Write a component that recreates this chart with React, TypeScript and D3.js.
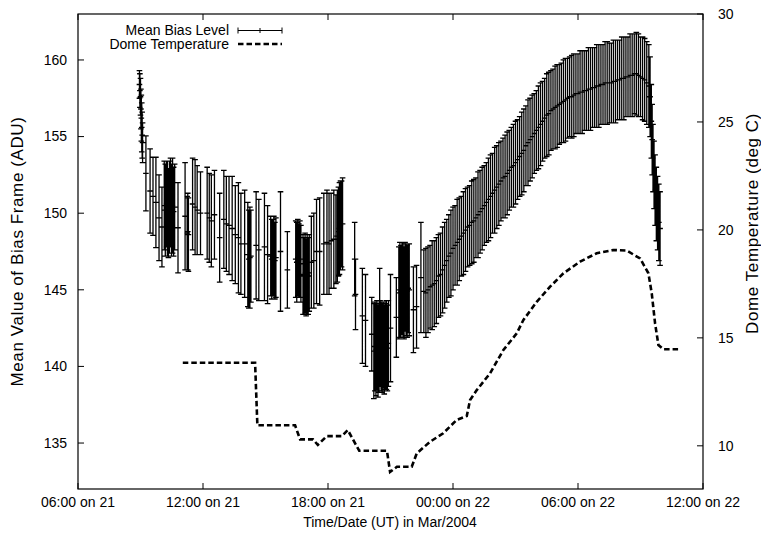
import React from 'react';
import * as d3 from 'd3';

// hours are counted from 00:00 UT on 21 Mar 2004
const xTickHours = [6, 12, 18, 24, 30, 36];
const xTickLabels = ['06:00 on 21', '12:00 on 21', '18:00 on 21', '00:00 on 22', '06:00 on 22', '12:00 on 22'];
const biasTicks = [135, 140, 145, 150, 155, 160];
const tempTicks = [10, 15, 20, 25, 30];

// [hour, mean bias (ADU), half error bar]
type Bar = [number, number, number];

const biasMorning: Bar[] = [
  [8.95, 158.4, 0.9], [8.97, 158.0, 1.1], [9.0, 157.6, 1.2], [9.02, 156.8, 1.3],
  [9.04, 156.2, 1.5], [9.06, 155.6, 1.6], [9.08, 155.1, 1.5], [9.1, 154.6, 1.3],
  [9.26, 152.6, 2.45], [9.46, 151.45, 2.75], [9.6, 151.1, 2.55], [9.74, 150.7, 2.95],
  [9.89, 149.7, 2.8], [10.03, 149.1, 2.6],
  [10.14, 150.5, 2.9], [10.19, 150.2, 3.0], [10.24, 150.6, 2.8], [10.29, 150.3, 3.1],
  [10.34, 150.0, 2.9], [10.39, 150.4, 3.0], [10.44, 150.7, 2.9], [10.49, 150.2, 3.0],
  [10.54, 150.5, 3.1], [10.59, 150.1, 2.9], [10.64, 150.4, 2.8],
  [10.8, 149.05, 2.95], [11.14, 149.8, 3.5],
  [11.24, 148.7, 2.4], [11.27, 148.8, 2.5], [11.3, 148.6, 2.4],
  [11.5, 150.6, 3.0], [11.62, 150.4, 3.1], [11.72, 150.2, 2.9], [11.88, 150.0, 2.7],
];

const biasAfternoon: Bar[] = [
  [12.2, 150.0, 3.0], [12.3, 149.7, 2.9], [12.4, 149.5, 3.0], [12.55, 149.9, 2.9],
  [12.8, 148.4, 2.9], [13.0, 149.6, 3.2], [13.12, 149.3, 3.1], [13.25, 149.2, 3.2],
  [13.4, 149.0, 3.4], [13.55, 148.6, 3.2], [13.7, 148.4, 3.6], [13.82, 148.0, 3.3],
  [14.0, 148.0, 3.5], [14.15, 147.3, 3.4], [14.2, 147.0, 3.2], [14.25, 147.1, 3.3],
  [14.3, 147.2, 3.0], [14.55, 147.9, 3.5], [14.68, 147.6, 3.3], [14.95, 147.8, 3.5],
  [15.1, 147.3, 3.2], [15.25, 147.2, 2.6], [15.3, 147.0, 2.6], [15.35, 147.1, 2.5],
  [15.4, 147.2, 2.6], [15.45, 146.9, 2.5], [15.5, 147.1, 2.6], [15.72, 147.5, 3.9],
  [16.05, 146.3, 2.5],
  [16.45, 147.0, 2.5], [16.5, 146.8, 2.6], [16.55, 147.1, 2.5], [16.6, 146.9, 2.4],
  [16.65, 147.0, 2.5], [16.7, 146.7, 2.5],
  [16.8, 146.0, 2.6], [16.85, 145.9, 2.5], [16.9, 146.1, 2.6], [16.95, 145.8, 2.5],
  [17.0, 146.0, 2.6], [17.05, 145.9, 2.5], [17.1, 146.1, 2.5],
  [17.2, 146.8, 3.0], [17.32, 146.9, 3.1], [17.45, 147.5, 3.4], [17.6, 147.5, 3.5],
  [17.8, 148.0, 3.3], [17.95, 148.1, 3.4], [18.05, 148.0, 3.3],
  [18.15, 148.2, 3.1], [18.28, 148.3, 3.2],
  [18.38, 148.3, 2.9], [18.45, 148.5, 3.0], [18.5, 148.8, 2.9], [18.55, 149.0, 3.0],
  [18.6, 149.2, 2.9], [18.65, 149.3, 2.8], [18.7, 149.3, 3.0],
];

const biasEvening: Bar[] = [
  [19.28, 147.0, 2.4], [19.32, 144.7, 2.3], [19.65, 143.3, 3.1], [19.8, 143.0, 3.0],
  [20.1, 142.1, 2.4],
  [20.2, 141.0, 3.1], [20.25, 141.3, 2.9], [20.3, 141.1, 3.0], [20.35, 141.4, 2.9],
  [20.4, 141.0, 3.0], [20.45, 141.2, 2.9], [20.48, 143.0, 3.4], [20.5, 141.5, 2.8],
  [20.55, 141.3, 2.9], [20.6, 141.2, 2.9], [20.65, 141.4, 2.8], [20.7, 141.1, 2.9],
  [20.75, 141.3, 2.8], [20.8, 141.4, 2.9], [20.85, 141.2, 2.8], [20.9, 141.5, 2.8],
  [21.0, 142.5, 3.5], [21.28, 143.2, 2.6],
  [21.4, 144.8, 3.0], [21.45, 145.0, 3.1], [21.5, 144.9, 3.0], [21.55, 145.1, 3.0],
  [21.6, 145.0, 3.1], [21.65, 144.8, 3.0], [21.7, 145.2, 2.9], [21.75, 145.0, 3.0],
  [21.8, 144.9, 3.0], [21.85, 145.1, 2.9], [21.9, 145.0, 3.0],
  [22.1, 143.7, 2.8], [22.25, 143.9, 2.7], [22.46, 145.8, 3.6],
];

const biasRise: Bar[] = [
  [22.6, 144.9, 2.7], [22.7, 144.8, 2.9], [22.8, 145.0, 2.8], [22.9, 145.2, 2.7],
  [23.0, 145.3, 2.9], [23.1, 145.4, 2.8], [23.2, 145.6, 2.8], [23.3, 145.9, 2.7],
  [23.4, 146.0, 2.7], [23.5, 146.3, 2.8], [23.6, 146.6, 2.8], [23.7, 146.9, 2.7],
  [23.8, 147.2, 2.7], [23.9, 147.4, 2.8], [24.0, 147.7, 2.7], [24.1, 147.9, 2.6],
  [24.2, 148.1, 2.8], [24.3, 148.3, 2.7], [24.4, 148.5, 2.6], [24.5, 148.7, 2.7],
  [24.6, 148.9, 2.7], [24.7, 149.1, 2.6], [24.8, 149.2, 2.6], [24.9, 149.4, 2.7],
  [25.0, 149.5, 2.7], [25.1, 149.7, 2.6], [25.2, 149.9, 2.8], [25.3, 150.1, 2.7],
  [25.4, 150.3, 2.7], [25.5, 150.5, 2.6], [25.6, 150.7, 2.6], [25.7, 150.9, 2.7],
  [25.8, 151.1, 2.7], [25.9, 151.3, 2.6], [26.0, 151.5, 2.8], [26.1, 151.7, 2.7],
  [26.2, 151.9, 2.7], [26.3, 152.1, 2.6], [26.4, 152.3, 2.6], [26.5, 152.4, 2.7],
  [26.6, 152.6, 2.7], [26.7, 152.8, 2.6], [26.8, 153.0, 2.6], [26.9, 153.1, 2.7],
  [27.0, 153.3, 2.7], [27.1, 153.5, 2.6], [27.2, 153.7, 2.6], [27.3, 153.9, 2.7],
  [27.4, 154.1, 2.7], [27.5, 154.4, 2.6], [27.6, 154.6, 2.8], [27.7, 154.8, 2.7],
  [27.8, 155.0, 2.7], [27.9, 155.2, 2.6], [28.0, 155.4, 2.6], [28.1, 155.6, 2.7],
  [28.2, 155.8, 2.7], [28.3, 156.0, 2.6], [28.4, 156.2, 2.6], [28.5, 156.4, 2.7],
  [28.6, 156.5, 2.7], [28.7, 156.7, 2.6], [28.8, 156.8, 2.6], [28.9, 156.9, 2.7],
  [29.0, 157.0, 2.7], [29.1, 157.1, 2.6], [29.2, 157.2, 2.6], [29.3, 157.3, 2.7],
  [29.4, 157.4, 2.7], [29.5, 157.5, 2.6], [29.6, 157.6, 2.6], [29.7, 157.6, 2.7],
  [29.8, 157.7, 2.7], [29.9, 157.8, 2.6], [30.0, 157.8, 2.6], [30.1, 157.9, 2.7],
  [30.2, 157.9, 2.7], [30.3, 158.0, 2.6], [30.4, 158.0, 2.6], [30.5, 158.1, 2.7],
  [30.6, 158.1, 2.7], [30.7, 158.2, 2.6], [30.8, 158.2, 2.6], [30.9, 158.3, 2.7],
  [31.0, 158.3, 2.7], [31.1, 158.4, 2.6], [31.2, 158.4, 2.6], [31.3, 158.5, 2.7],
  [31.4, 158.5, 2.7], [31.5, 158.5, 2.6], [31.6, 158.5, 2.6], [31.7, 158.6, 2.7],
  [31.8, 158.6, 2.7], [31.9, 158.7, 2.6], [32.0, 158.7, 2.6], [32.1, 158.8, 2.7],
  [32.2, 158.8, 2.7], [32.3, 158.9, 2.6], [32.4, 158.9, 2.6], [32.5, 159.0, 2.7],
  [32.6, 159.0, 2.7], [32.7, 159.1, 2.6], [32.8, 159.1, 2.7], [32.9, 159.0, 2.7],
  [33.0, 158.9, 2.6], [33.1, 158.8, 2.7], [33.2, 158.7, 2.7], [33.3, 158.5, 2.7],
];

const biasTail: Bar[] = [
  [33.4, 158.3, 2.7], [33.46, 157.6, 2.6], [33.52, 156.0, 2.4], [33.56, 154.8, 2.3],
  [33.6, 153.6, 2.2], [33.65, 152.5, 2.2], [33.7, 151.5, 2.3], [33.76, 150.6, 2.4],
  [33.82, 150.0, 2.4], [33.88, 149.4, 2.5], [33.94, 149.0, 2.4],
];

// [hour, dome temperature (deg C)]
const domeTemp: [number, number][] = [
  [11.03, 13.85], [14.5, 13.85], [14.61, 10.95], [16.42, 10.95], [16.66, 10.3],
  [17.28, 10.3], [17.51, 10.04], [17.94, 10.45], [18.66, 10.45], [18.95, 10.73],
  [19.5, 9.77], [20.83, 9.77], [20.98, 8.79], [21.31, 9.03], [22.02, 9.03],
  [22.26, 9.65], [22.9, 10.19], [23.53, 10.58], [24.18, 11.2], [24.66, 11.38],
  [24.82, 12.12], [25.14, 12.58], [25.78, 13.36], [26.42, 14.44], [27.06, 15.21],
  [27.38, 15.83], [28.02, 16.67], [28.66, 17.37], [29.3, 17.99], [30.1, 18.53],
  [30.9, 18.92], [31.7, 19.07], [32.34, 19.04], [32.98, 18.68], [33.38, 17.99],
  [33.54, 17.06], [33.7, 15.67], [33.86, 14.67], [34.1, 14.47], [34.82, 14.47],
];

const W = 761;
const H = 533;
const plot = { left: 78, right: 703, top: 14, bottom: 489 };
const font = '"Liberation Sans", Arial, Helvetica, sans-serif';

export default function App() {
  const x = d3.scaleLinear().domain([6, 36]).range([plot.left, plot.right]);
  const yBias = d3.scaleLinear().domain([132, 163]).range([plot.bottom, plot.top]);
  const yTemp = d3.scaleLinear().domain([8, 30]).range([plot.bottom, plot.top]);

  const bars = [...biasMorning, ...biasAfternoon, ...biasEvening, ...biasRise, ...biasTail];
  const cap = 2.8;
  const barPath = bars.map(([h, m, e]) => {
    const cx = x(h);
    const y0 = yBias(m - e);
    const y1 = yBias(m + e);
    const ym = yBias(m);
    return `M${cx},${y0}V${y1}M${cx - cap},${y0}H${cx + cap}M${cx - cap},${y1}H${cx + cap}M${cx - cap},${ym}H${cx + cap}`;
  }).join('');

  const tempLine = d3.line<[number, number]>()
    .x(d => x(d[0]))
    .y(d => yTemp(d[1]))(domeTemp) || '';

  const tick = 6;
  const midY = (plot.top + plot.bottom) / 2;

  return (
    <svg width={W} height={H} style={{ position: 'absolute', left: 0, top: 0, background: '#fff' }}
      fontFamily={font} fontSize={14}>
      <rect x={0} y={0} width={W} height={H} fill="#fff" />

      {/* error bars */}
      <path d={barPath} fill="none" stroke="#000" strokeWidth={1.3} />

      {/* dome temperature */}
      <path d={tempLine} fill="none" stroke="#000" strokeWidth={2.6} strokeDasharray="5.5,3" />

      {/* frame */}
      <rect x={plot.left} y={plot.top} width={plot.right - plot.left} height={plot.bottom - plot.top}
        fill="none" stroke="#000" strokeWidth={1.2} />

      {/* x ticks */}
      {xTickHours.map((h, i) => (
        <g key={h}>
          <line x1={x(h)} x2={x(h)} y1={plot.bottom} y2={plot.bottom - tick} stroke="#000" />
          <line x1={x(h)} x2={x(h)} y1={plot.top} y2={plot.top + tick} stroke="#000" />
          <text x={x(h)} y={plot.bottom + 18} textAnchor="middle">{xTickLabels[i]}</text>
        </g>
      ))}

      {/* left y ticks */}
      {biasTicks.map(v => (
        <g key={v}>
          <line x1={plot.left} x2={plot.left + tick} y1={yBias(v)} y2={yBias(v)} stroke="#000" />
          <text x={plot.left - 11} y={yBias(v)} dy="0.35em" textAnchor="end">{v}</text>
        </g>
      ))}

      {/* right y ticks */}
      {tempTicks.map(v => (
        <g key={v}>
          <line x1={plot.right} x2={plot.right - tick} y1={yTemp(v)} y2={yTemp(v)} stroke="#000" />
          <text x={plot.right + 15} y={yTemp(v)} dy="0.35em" textAnchor="start">{v}</text>
        </g>
      ))}

      {/* axis titles */}
      <text x={390} y={527} textAnchor="middle">Time/Date (UT) in Mar/2004</text>
      <text transform={`translate(23,${midY}) rotate(-90)`} textAnchor="middle" fontSize={17} letterSpacing={0.6}>
        Mean Value of Bias Frame (ADU)
      </text>
      <text transform={`translate(758,${midY - 28}) rotate(-90)`} textAnchor="middle" fontSize={17} letterSpacing={0.6}>
        Dome Temperature (deg C)
      </text>

      {/* legend */}
      <text x={229} y={30} dy="0.35em" textAnchor="end">Mean Bias Level</text>
      <path d="M238,30.5H282M238,27.5V33.5M282,27.5V33.5M260,28V33" stroke="#000" fill="none" />
      <text x={229} y={44} dy="0.35em" textAnchor="end">Dome Temperature</text>
      <path d="M238,44H282" stroke="#000" strokeWidth={2.6} strokeDasharray="5.5,3" fill="none" />
    </svg>
  );
}
